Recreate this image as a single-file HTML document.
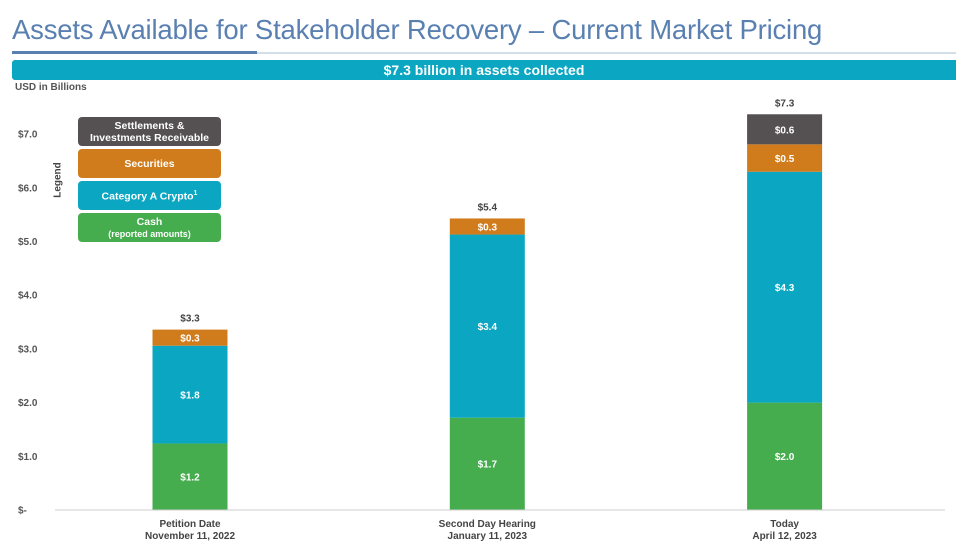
<!DOCTYPE html>
<html><head><meta charset="utf-8"><style>
body{margin:0;width:956px;height:550px;background:#fff;overflow:hidden;font-family:"Liberation Sans",Arial,sans-serif;position:relative}
.t{position:absolute;left:12px;top:14px;font-size:27.5px;color:#5a80b2;letter-spacing:-0.2px}
.lg{position:absolute;left:78px;width:143px;border-radius:4px;color:#fff;font-weight:bold;font-size:10.5px;text-align:center;display:flex;flex-direction:column;justify-content:center;line-height:12px}
</style></head><body>
<div class="t">Assets Available for Stakeholder Recovery – Current Market Pricing</div>
<div style="position:absolute;left:12px;top:51px;width:245px;height:3px;background:#5a80b2"></div>
<div style="position:absolute;left:257px;top:52px;width:699px;height:2px;background:#d3deeb"></div>
<div style="position:absolute;left:12px;top:60px;width:944px;height:20px;background:#0aa6c2;border-radius:3px 0 0 3px;color:#fff;font-weight:bold;font-size:14px;text-align:center;line-height:20px">$7.3 billion in assets collected</div>
<div style="position:absolute;left:15px;top:82px;font-size:10px;font-weight:bold;color:#555">USD in Billions</div>
<div style="position:absolute;left:58px;top:180px;transform:translate(-50%,-50%) rotate(-90deg);font-size:10px;font-weight:bold;color:#444">Legend</div>
<div class="lg" style="top:117px;height:29px;background:#555152">Settlements &amp;<br>Investments Receivable</div>
<div class="lg" style="top:149px;height:29px;background:#d07c1c">Securities</div>
<div class="lg" style="top:181px;height:29px;background:#0aa6c2"><span>Category A Crypto<sup style="font-size:7px">1</sup></span></div>
<div class="lg" style="top:213px;height:29px;background:#45ad4e">Cash<span style="font-size:9px;font-weight:bold">(reported amounts)</span></div>
<svg id="c" width="956" height="550" style="position:absolute;left:0;top:0"></svg>
<script>
const categories=["Petition Date|November 11, 2022","Second Day Hearing|January 11, 2023","Today|April 12, 2023"];
const cash=[1.23,1.71,1.99];
const crypto=[1.82,3.41,4.30];
const securities=[0.30,0.30,0.51];
const settlements=[0,0,0.56];
const cashLabels=["$1.2","$1.7","$2.0"];
const cryptoLabels=["$1.8","$3.4","$4.3"];
const secLabels=["$0.3","$0.3","$0.5"];
const setLabels=["","","$0.6"];
const totalLabels=["$3.3","$5.4","$7.3"];
const yTicks=[0,1,2,3,4,5,6,7];
const yTickLabels=["$-","$1.0","$2.0","$3.0","$4.0","$5.0","$6.0","$7.0"];
const NS="http://www.w3.org/2000/svg",svg=document.getElementById('c');
const y=v=>509.5-v*53.7;
const xc=i=>190+i*297.3;
function mk(t,a,txt){const e=document.createElementNS(NS,t);for(const k in a)e.setAttribute(k,a[k]);if(txt!=null)e.textContent=txt;svg.appendChild(e);return e;}
yTicks.forEach((v,i)=>{const e=mk('text',{x:18,y:y(v)+4,'font-size':10,'font-weight':'bold',fill:'#555'},yTickLabels[i]);

});
const ax=mk('line',{x1:55,x2:945,y1:510,y2:510,stroke:'#ccc','stroke-width':1});


const series=[[cash,'#45ad4e',cashLabels,'cash'],[crypto,'#0aa6c2',cryptoLabels,'crypto'],[securities,'#d07c1c',secLabels,'securities'],[settlements,'#555152',setLabels,'settlements']];
categories.forEach((c,i)=>{
 let base=0;
 series.forEach(s=>{const v=s[0][i];if(v<=0)return;
  const r=mk('rect',{x:xc(i)-37.5,width:75,y:y(base+v),height:y(base)-y(base+v),fill:s[1]});
  
  
  const t=mk('text',{x:xc(i),y:(y(base)+y(base+v))/2+4,'font-size':10,'font-weight':'bold',fill:'#fff','text-anchor':'middle'},s[2][i]);
  
  
  base+=v;});
 const tt=mk('text',{x:xc(i),y:y(base)-8,'font-size':10,'font-weight':'bold',fill:'#444','text-anchor':'middle'},totalLabels[i]);
 
 
 c.split('|').forEach((ln,j)=>{const e=mk('text',{x:xc(i),y:527+j*12,'font-size':10,'font-weight':'bold',fill:'#444','text-anchor':'middle'},ln);
  
  });
});
</script>
</body></html>
